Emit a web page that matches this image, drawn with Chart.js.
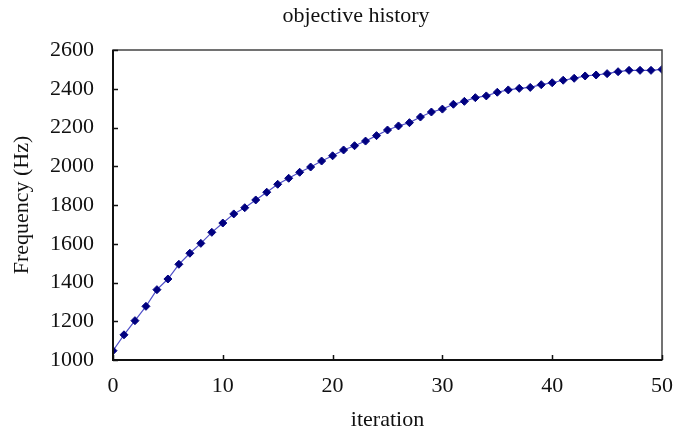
<!DOCTYPE html>
<html>
<head>
<meta charset="utf-8">
<title>objective history</title>
<script src="https://cdn.jsdelivr.net/npm/chart.js@4"></script>
<style>
  html, body { margin: 0; padding: 0; background: #fff; }
  #wrap { width: 678px; height: 433px; }
</style>
</head>
<body>
<div id="wrap"><canvas id="histChart"></canvas></div>
<script>
// objective value per optimisation step
const iterations = [0, 1, 2, 3, 4, 5, 6, 7, 8, 9, 10, 11, 12, 13, 14, 15, 16, 17, 18, 19, 20,
  21, 22, 23, 24, 25, 26, 27, 28, 29, 30, 31, 32, 33, 34, 35, 36, 37, 38, 39, 40,
  41, 42, 43, 44, 45, 46, 47, 48, 49, 50];
const frequency = [1048, 1130, 1203, 1277, 1363, 1418, 1494, 1551, 1602, 1659, 1707,
  1754, 1786, 1826, 1866, 1907, 1938, 1969, 1996, 2027, 2054,
  2084, 2106, 2130, 2158, 2187, 2208, 2225, 2254, 2280, 2295,
  2320, 2335, 2354, 2363, 2382, 2394, 2402, 2407, 2421, 2431,
  2444, 2454, 2466, 2471, 2478, 2488, 2495, 2495, 2495, 2500];
const xTicks = [0, 10, 20, 30, 40, 50];
const yTicks = [1000, 1200, 1400, 1600, 1800, 2000, 2200, 2400, 2600];

const FONT = '"Liberation Serif", "Times New Roman", serif';

// box around the plot plus short inward tick marks
const frameAndTicks = {
  id: 'frameAndTicks',
  afterDatasetsDraw(chart) {
    const { ctx, chartArea: a, scales } = chart;
    ctx.save();
    ctx.strokeStyle = '#444';
    ctx.lineWidth = 1.5;
    ctx.strokeRect(a.left, a.top, a.right - a.left, a.bottom - a.top);

    // left and bottom spines a bit heavier
    ctx.strokeStyle = '#111';
    ctx.lineWidth = 2;
    ctx.beginPath();
    ctx.moveTo(a.left, a.top);
    ctx.lineTo(a.left, a.bottom);
    ctx.lineTo(a.right, a.bottom);
    ctx.stroke();

    ctx.lineWidth = 1.5;
    ctx.beginPath();
    xTicks.forEach(v => {
      const px = Math.round(scales.x.getPixelForValue(v)) + 0.5;
      ctx.moveTo(px, a.bottom);
      ctx.lineTo(px, a.bottom - 5);
    });
    yTicks.forEach(v => {
      const py = Math.round(scales.y.getPixelForValue(v)) + 0.5;
      ctx.moveTo(a.left, py);
      ctx.lineTo(a.left + 5, py);
    });
    ctx.stroke();
    ctx.restore();
  }
};

// title sits a little left of the plot centre
const topTitle = {
  id: 'topTitle',
  afterDraw(chart) {
    const { ctx } = chart;
    ctx.save();
    ctx.font = '22px ' + FONT;
    ctx.fillStyle = '#111';
    ctx.textAlign = 'center';
    ctx.textBaseline = 'middle';
    ctx.fillText('objective history', 356, 16);
    ctx.restore();
  }
};

new Chart(document.getElementById('histChart'), {
  type: 'line',
  data: {
    labels: iterations,
    datasets: [{
      label: 'objective',
      data: iterations.map((it, i) => ({ x: it, y: frequency[i] })),
      borderColor: '#5050c8',
      borderWidth: 1.2,
      tension: 0,
      pointStyle: 'rectRot',
      pointRadius: 4,
      pointBackgroundColor: '#000080',
      pointBorderColor: '#000080',
      pointBorderWidth: 1
    }]
  },
  options: {
    responsive: true,
    maintainAspectRatio: false,
    animation: false,
    events: [],
    layout: { padding: { top: 50, right: 15, left: 0, bottom: 0 } },
    plugins: {
      legend: { display: false },
      tooltip: { enabled: false }
    },
    scales: {
      x: {
        type: 'linear',
        min: 0,
        max: 50,
        afterBuildTicks: s => { s.ticks = xTicks.map(v => ({ value: v })); },
        afterFit: s => { s.height = 73; },
        ticks: { color: '#111', font: { family: FONT, size: 22 }, padding: 5, maxRotation: 0,
          callback: v => String(v) },
        grid: { display: false },
        border: { display: false },
        title: { display: true, text: 'iteration', color: '#111', font: { family: FONT, size: 22 }, padding: { top: 0, bottom: 0 } }
      },
      y: {
        min: 1000,
        max: 2600,
        afterBuildTicks: s => { s.ticks = yTicks.map(v => ({ value: v })); },
        afterFit: s => { s.width = 113; },
        ticks: { color: '#111', font: { family: FONT, size: 22 }, padding: 11,
          callback: v => String(v) },
        grid: { display: false },
        border: { display: false },
        title: { display: true, text: 'Frequency (Hz)', color: '#111', font: { family: FONT, size: 22 }, padding: { top: 9, bottom: 0 } }
      }
    }
  },
  plugins: [frameAndTicks, topTitle]
});
</script>
</body>
</html>
